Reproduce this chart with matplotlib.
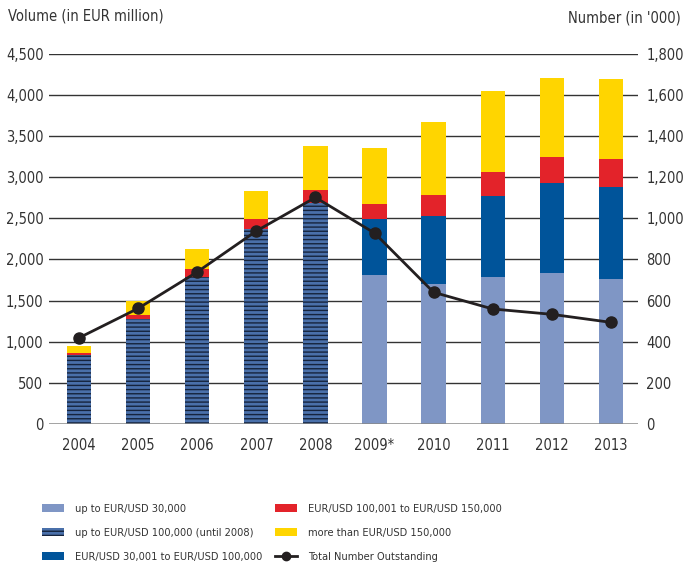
import matplotlib
matplotlib.use("Agg")
import matplotlib.pyplot as plt
from matplotlib.patches import Patch
from matplotlib.lines import Line2D
from matplotlib.ticker import FuncFormatter

plt.rcParams['font.family'] = ['DejaVu Sans']
plt.rcParams['font.stretch'] = 'condensed'
plt.rcParams['hatch.linewidth'] = 1.0

years = ['2004', '2005', '2006', '2007', '2008', '2009*', '2010', '2011', '2012', '2013']
up_to_30k = [0, 0, 0, 0, 0, 1810, 1700, 1785, 1835, 1760]
up_to_100k_until_2008 = [840, 1275, 1780, 2370, 2680, 0, 0, 0, 0, 0]
from_30k_to_100k = [0, 0, 0, 0, 0, 680, 830, 990, 1095, 1120]
from_100k_to_150k = [25, 45, 105, 120, 160, 185, 250, 290, 315, 340]
more_than_150k = [85, 175, 240, 340, 535, 680, 885, 985, 960, 970]
total_number = [419, 562, 739, 938, 1101, 928, 640, 559, 533, 494]

c_light = '#7f96c5'
c_hatch = '#4a70aa'
c_blue = '#00549a'
c_red = '#e3232a'
c_yellow = '#ffd500'
c_line = '#231f20'
fs = 10.5
lfs = 7.9

fig = plt.figure(figsize=(6.83, 5.69), dpi=100)
ax = fig.add_axes([49/683, 1-424/569, (638-49)/683, (424-53.6)/569])

x = list(range(len(years)))
w = 0.41
bottom = [0]*len(years)
def stack(vals, color, hatch=None):
    global bottom
    ax.bar(x, vals, w, bottom=bottom, color=color, hatch=hatch, edgecolor='#16243d' if hatch else 'none',
           linewidth=0, zorder=2)
    bottom = [b+v for b, v in zip(bottom, vals)]

stack(up_to_30k, c_light)
stack(up_to_100k_until_2008, c_hatch, hatch='----')
stack(from_30k_to_100k, c_blue)
stack(from_100k_to_150k, c_red)
stack(more_than_150k, c_yellow)

ax.set_xlim(-0.51, 9.46)
ax.set_ylim(0, 4500)
ax.set_yticks(range(0, 4501, 500))
ax.yaxis.set_major_formatter(FuncFormatter(lambda v, p: f'{int(v):,}'))
ax.set_xticks(x)
ax.set_xticklabels(years)
ax.tick_params(length=0, labelsize=fs, colors='#333333', pad=4)
ax.tick_params(axis='x', pad=10)
for s in ax.spines.values():
    s.set_visible(False)
for yv in range(500, 4501, 500):
    ax.axhline(yv, color='#333333', lw=1.0, zorder=1)
ax.axhline(0, color='#888888', lw=1.8, zorder=3)

ax2 = ax.twinx()
ax2.set_ylim(0, 1800)
ax2.set_yticks(range(0, 1801, 200))
ax2.yaxis.set_major_formatter(FuncFormatter(lambda v, p: f'{int(v):,}'))
ax2.tick_params(length=0, labelsize=fs, colors='#333333', pad=6)
for s in ax2.spines.values():
    s.set_visible(False)
ax2.plot(x, total_number, color=c_line, lw=2, marker='o', markersize=8, zorder=5)

fig.text(8/683, 1-16/569, 'Volume (in EUR million)', fontsize=fs, color='#333333', va='center', ha='left')
fig.text(681/683, 1-18/569, "Number (in '000)", fontsize=fs, color='#333333', va='center', ha='right')

handles = [
    Patch(facecolor=c_light, edgecolor='none'),
    Patch(facecolor=c_hatch, edgecolor='#16243d', hatch='----', linewidth=0),
    Patch(facecolor=c_blue, edgecolor='none'),
    Patch(facecolor=c_red, edgecolor='none'),
    Patch(facecolor=c_yellow, edgecolor='none'),
    Line2D([0], [0], color=c_line, lw=2, marker='o', markersize=6),
]
labels = ['up to EUR/USD 30,000', 'up to EUR/USD 100,000 (until 2008)', 'EUR/USD 30,001 to EUR/USD 100,000',
          'EUR/USD 100,001 to EUR/USD 150,000', 'more than EUR/USD 150,000', 'Total Number Outstanding']
kw = dict(frameon=False, fontsize=lfs, handlelength=2.0, handleheight=0.75, handletextpad=1.0,
          labelspacing=1.3, labelcolor='#333333', borderaxespad=0, borderpad=0, loc='center left')
fig.legend(handles[:3], labels[:3], bbox_to_anchor=(42/683, 1-533/569), **kw)
fig.legend(handles[3:], labels[3:], bbox_to_anchor=(275/683, 1-533/569), **kw)

fig.savefig('out.png', dpi=100)
